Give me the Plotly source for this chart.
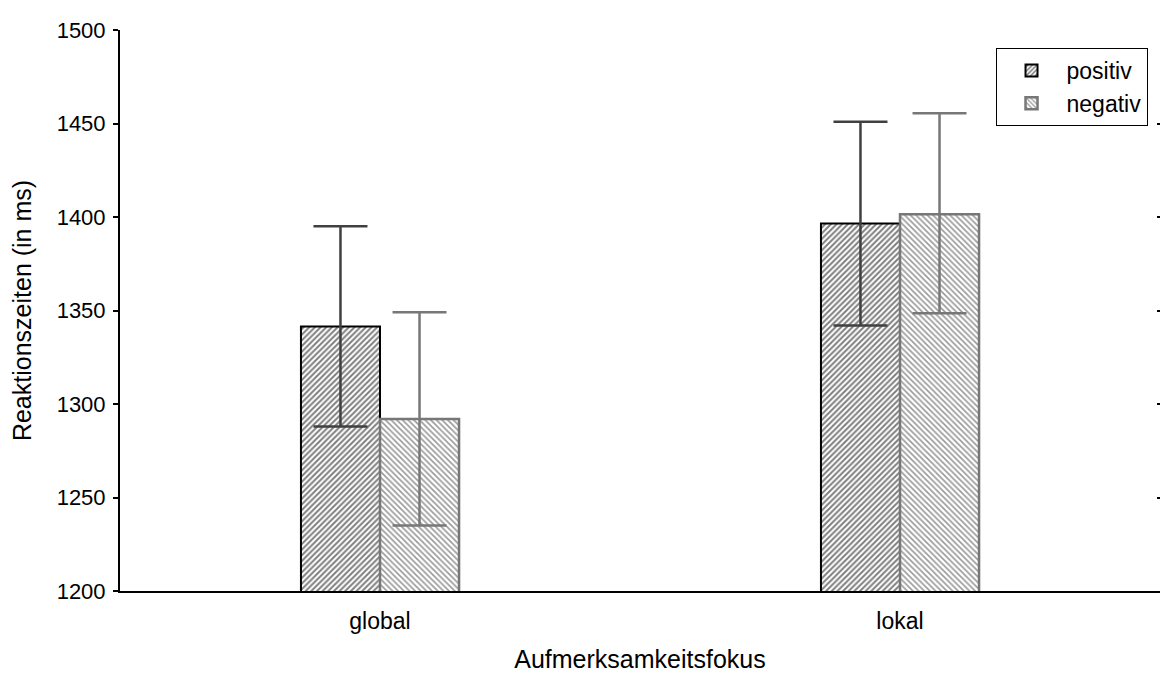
import plotly.graph_objects as go

categories = ["global", "lokal"]
positiv = [1341.5, 1396.5]
positiv_upper = [1395, 1451]
positiv_lower = [1288, 1342]
negativ = [1292, 1401.5]
negativ_upper = [1349, 1455.5]
negativ_lower = [1235, 1348.5]
y_range = [1200, 1500]

def errs(vals, up, lo):
    return [u - v for u, v in zip(up, vals)], [v - l for v, l in zip(vals, lo)]

pu, pl = errs(positiv, positiv_upper, positiv_lower)
nu, nl = errs(negativ, negativ_upper, negativ_lower)

fig = go.Figure()
fig.add_trace(go.Bar(
    x=categories, y=positiv, name="positiv",
    marker=dict(color="white", line=dict(color="black", width=2),
                pattern=dict(shape="/", fgcolor="black", bgcolor="white", size=4, solidity=0.5)),
    error_y=dict(type="data", array=pu, arrayminus=pl, color="#404040", thickness=2.5, width=27),
))
fig.add_trace(go.Bar(
    x=categories, y=negativ, name="negativ",
    marker=dict(color="white", line=dict(color="#777777", width=2.5),
                pattern=dict(shape="\\", fgcolor="#333333", bgcolor="white", size=4, solidity=0.4)),
    error_y=dict(type="data", array=nu, arrayminus=nl, color="#777777", thickness=2.5, width=27),
))
# empty helper trace so the right-hand tick axis is drawn
fig.add_trace(go.Scatter(x=[categories[0]], y=[None], yaxis="y2", mode="markers",
                         showlegend=False, hoverinfo="skip"))

font = "Liberation Sans, Arial, sans-serif"
fig.update_layout(
    width=1160, height=673,
    margin=dict(l=120, r=0, t=30, b=82),
    plot_bgcolor="white", paper_bgcolor="white",
    barmode="group", bargap=0.696, bargroupgap=0,
    font=dict(family=font, size=22, color="black"),
    showlegend=True,
    legend=dict(x=0.988, y=0.968, xanchor="right", yanchor="top",
                bordercolor="black", borderwidth=1, bgcolor="white",
                font=dict(size=23), tracegroupgap=0, itemwidth=60),
    xaxis=dict(
        showline=True, linecolor="black", linewidth=2,
        ticks="", showgrid=False, ticklabelstandoff=8,
        tickfont=dict(size=23), automargin=False,
        title=dict(text="Aufmerksamkeitsfokus", standoff=22, font=dict(size=25)),
        range=[-0.5, 1.5],
    ),
    yaxis=dict(
        range=y_range, dtick=50, tick0=1200,
        showline=True, linecolor="black", linewidth=2,
        ticks="outside", ticklen=5, tickwidth=2, tickcolor="black",
        mirror=False, showgrid=False, zeroline=False, automargin=False,
        tickfont=dict(size=22), ticklabelstandoff=3,
        title=dict(text="Reaktionszeiten (in ms)", standoff=18, font=dict(size=25)),
    ),
    yaxis2=dict(
        range=y_range, dtick=50, tick0=1200, overlaying="y", side="right",
        showline=False, showticklabels=False, showgrid=False, zeroline=False,
        ticks="inside", ticklen=3, tickwidth=2, tickcolor="black", automargin=False,
    ),
)

fig.write_html("out.html", config={"displayModeBar": False},
               post_script="document.body.style.margin='0';")
